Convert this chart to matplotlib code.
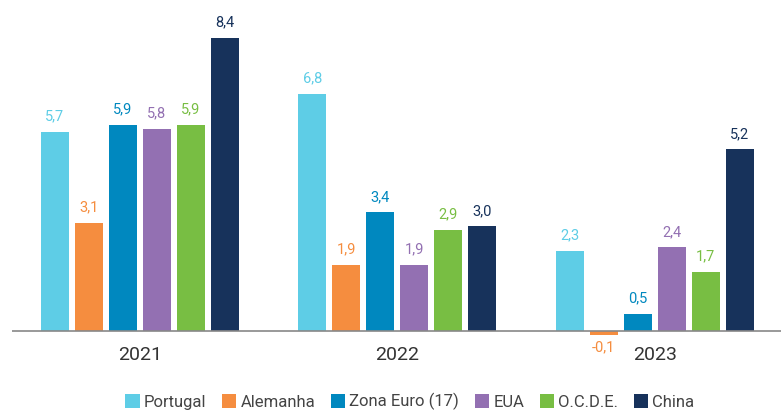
import numpy as np
import matplotlib.pyplot as plt

years = ['2021', '2022', '2023']
series = ['Portugal', 'Alemanha', 'Zona Euro (17)', 'EUA', 'O.C.D.E.', 'China']
portugal = [5.7, 6.8, 2.3]
alemanha = [3.1, 1.9, -0.1]
zona_euro = [5.9, 3.4, 0.5]
eua = [5.8, 1.9, 2.4]
ocde = [5.9, 2.9, 1.7]
china = [8.4, 3.0, 5.2]
colors = ['#5ECDE6', '#F58D3F', '#0088BF', '#9370B2', '#78BE43', '#17325B']

plt.rcParams['font.family'] = ['Roboto', 'DejaVu Sans']

fig = plt.figure(figsize=(7.81, 4.11), dpi=100)
ax = fig.add_axes([12 / 781, 66 / 411, 769 / 781, 345 / 411])

x = np.arange(len(years))
width = 0.109
step = 0.132
data = [portugal, alemanha, zona_euro, eua, ocde, china]
for i, (name, vals, c) in enumerate(zip(series, data, colors)):
    pos = x + (i - 2.5) * step
    ax.bar(pos, vals, width, color=c, label=name)
    for p, v in zip(pos, vals):
        txt = f'{v:.1f}'.replace('.', ',')
        if v >= 0:
            ax.annotate(txt, (p, v), xytext=(0, 6), textcoords='offset points',
                        ha='center', va='bottom', color=c, fontsize=10.5)
        else:
            ax.annotate(txt, (p, v), xytext=(0, -4), textcoords='offset points',
                        ha='center', va='top', color=c, fontsize=10.5)

ax.axhline(0, color='#888888', linewidth=1.2, zorder=3)
ax.set_xlim(-0.497, 2.49)
ax.set_ylim(-0.4, 9.48)
ax.set_xticks(x)
ax.set_xticklabels(years, fontsize=14, color='#333333')
ax.tick_params(axis='x', length=0, pad=1)
ax.set_yticks([])
for s in ax.spines.values():
    s.set_visible(False)

fig.legend(loc='lower center', bbox_to_anchor=(0.525, -0.035), ncol=6, frameon=False,
           handlelength=0.85, handleheight=0.95, handletextpad=0.25, columnspacing=0.95,
           fontsize=12, labelcolor='#444444')

fig.savefig('out.png', dpi=100)
